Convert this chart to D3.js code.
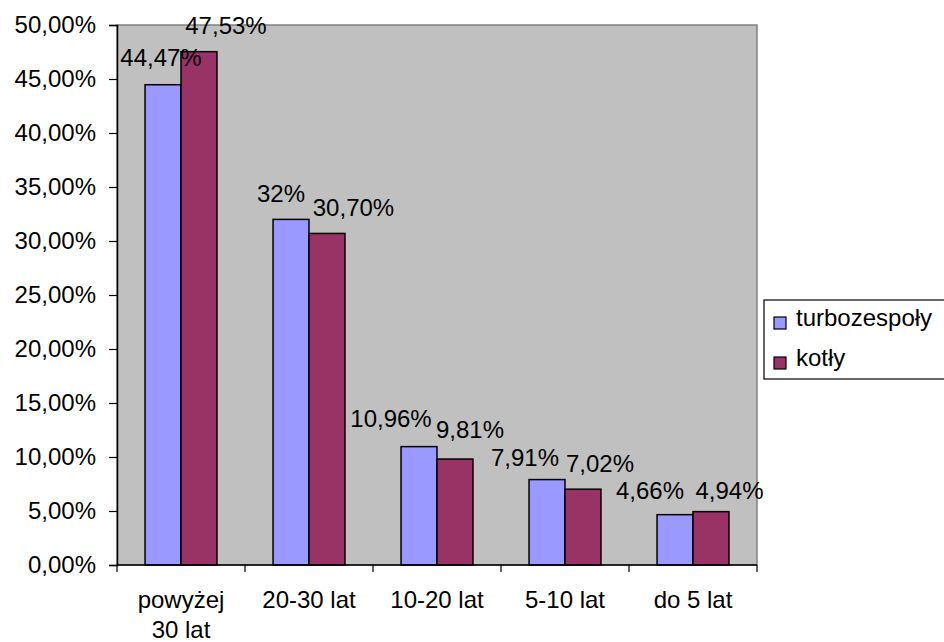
<!DOCTYPE html>
<html>
<head>
<meta charset="utf-8">
<script src="https://cdn.jsdelivr.net/npm/d3@7/dist/d3.min.js"></script>
<style>
  html, body { margin: 0; padding: 0; background: #fff; }
  svg text { font-family: "Liberation Sans", Arial, sans-serif; fill: #000; }
</style>
</head>
<body>
<svg id="chart" width="944" height="642"></svg>
<script>
// Age structure of power units
const categories = [["powyżej", "30 lat"], ["20-30 lat"], ["10-20 lat"], ["5-10 lat"], ["do 5 lat"]];
const seriesNames = ["turbozespoły", "kotły"];
const turbozespoly = [44.47, 32, 10.96, 7.91, 4.66];
const kotly = [47.53, 30.70, 9.81, 7.02, 4.94];
const turboLabels = ["44,47%", "32%", "10,96%", "7,91%", "4,66%"];
const kotlyLabels = ["47,53%", "30,70%", "9,81%", "7,02%", "4,94%"];
const yTicks = [0, 5, 10, 15, 20, 25, 30, 35, 40, 45, 50];
const yTickLabels = ["0,00%", "5,00%", "10,00%", "15,00%", "20,00%", "25,00%", "30,00%", "35,00%", "40,00%", "45,00%", "50,00%"];
const colors = ["#9999FF", "#993366"];

// label nudges (pixels) relative to the top-centre of each bar
const labelDx = [[-2, -10, -28, -22, -25], [27, 26.5, 15, 17, 18.5]];
const labelDy = [[-19, -17, -20, -14, -16], [-18, -17.5, -21, -17, -13]];

const svg = d3.select("#chart");
const plot = { left: 117, top: 25, right: 757, bottom: 565 };
const fontSize = 24;

const x0 = d3.scaleBand()
  .domain(d3.range(categories.length))
  .range([plot.left, plot.right])
  .paddingInner(0).paddingOuter(0);
const x1 = d3.scaleBand()
  .domain(d3.range(seriesNames.length))
  .range([0, x0.bandwidth()])
  .paddingOuter(0.78).paddingInner(0);
const y = d3.scaleLinear().domain([0, 50]).range([plot.bottom, plot.top]);

// plot area background
svg.append("rect")
  .attr("x", plot.left).attr("y", plot.top)
  .attr("width", plot.right - plot.left).attr("height", plot.bottom - plot.top)
  .attr("fill", "#C0C0C0").attr("stroke", "#808080").attr("stroke-width", 1.5);

// bars
const values = [turbozespoly, kotly];
const labels = [turboLabels, kotlyLabels];
values.forEach((vals, s) => {
  svg.append("g").selectAll("rect")
    .data(vals)
    .join("rect")
    .attr("x", (d, i) => x0(i) + x1(s))
    .attr("y", d => y(d))
    .attr("width", x1.bandwidth())
    .attr("height", d => y(0) - y(d))
    .attr("fill", colors[s])
    .attr("stroke", "#000").attr("stroke-width", 1.5);
});

// value labels
values.forEach((vals, s) => {
  svg.append("g").selectAll("text")
    .data(vals)
    .join("text")
    .attr("x", (d, i) => x0(i) + x1(s) + x1.bandwidth() / 2 + labelDx[s][i])
    .attr("y", (d, i) => y(d) + labelDy[s][i])
    .attr("text-anchor", "middle")
    .attr("font-size", fontSize)
    .text((d, i) => labels[s][i]);
});

// y axis
const yAxis = d3.axisLeft(y)
  .tickValues(yTicks)
  .tickSize(8)
  .tickPadding(13)
  .tickFormat((d, i) => yTickLabels[i]);
const gy = svg.append("g").attr("transform", `translate(${plot.left},0)`).call(yAxis);
gy.select(".domain").attr("stroke", "#000").attr("stroke-width", 1.5);
gy.selectAll(".tick line").attr("stroke", "#000").attr("stroke-width", 1.2);
gy.selectAll(".tick text").attr("font-size", fontSize).attr("font-family", "Liberation Sans, Arial, sans-serif");

// x axis with ticks at category boundaries
const boundaries = d3.range(categories.length + 1).map(i => plot.left + i * x0.bandwidth());
svg.append("line")
  .attr("x1", plot.left).attr("x2", plot.right)
  .attr("y1", plot.bottom).attr("y2", plot.bottom)
  .attr("stroke", "#000").attr("stroke-width", 1.5);
svg.append("g").selectAll("line")
  .data(boundaries)
  .join("line")
  .attr("x1", d => d).attr("x2", d => d)
  .attr("y1", plot.bottom).attr("y2", plot.bottom + 7)
  .attr("stroke", "#000").attr("stroke-width", 1.2);

const catText = svg.append("g").selectAll("text")
  .data(categories)
  .join("text")
  .attr("x", (d, i) => x0(i) + x0.bandwidth() / 2)
  .attr("y", 608)
  .attr("text-anchor", "middle")
  .attr("font-size", fontSize);
catText.selectAll("tspan")
  .data(d => d)
  .join("tspan")
  .attr("x", function () { return d3.select(this.parentNode).attr("x"); })
  .attr("dy", (d, i) => i === 0 ? 0 : 30)
  .text(d => d);

// legend
const legend = svg.append("g");
legend.append("rect")
  .attr("x", 764).attr("y", 300).attr("width", 200).attr("height", 79)
  .attr("fill", "#fff").attr("stroke", "#000").attr("stroke-width", 1.2);
seriesNames.forEach((name, i) => {
  const ly = 325 + i * 40;
  legend.append("rect")
    .attr("x", 774).attr("y", ly - 8).attr("width", 12).attr("height", 12)
    .attr("fill", colors[i]).attr("stroke", "#000").attr("stroke-width", 1.2);
  legend.append("text")
    .attr("x", 796).attr("y", ly + 1)
    .attr("font-size", fontSize)
    .text(name);
});
</script>
</body>
</html>
